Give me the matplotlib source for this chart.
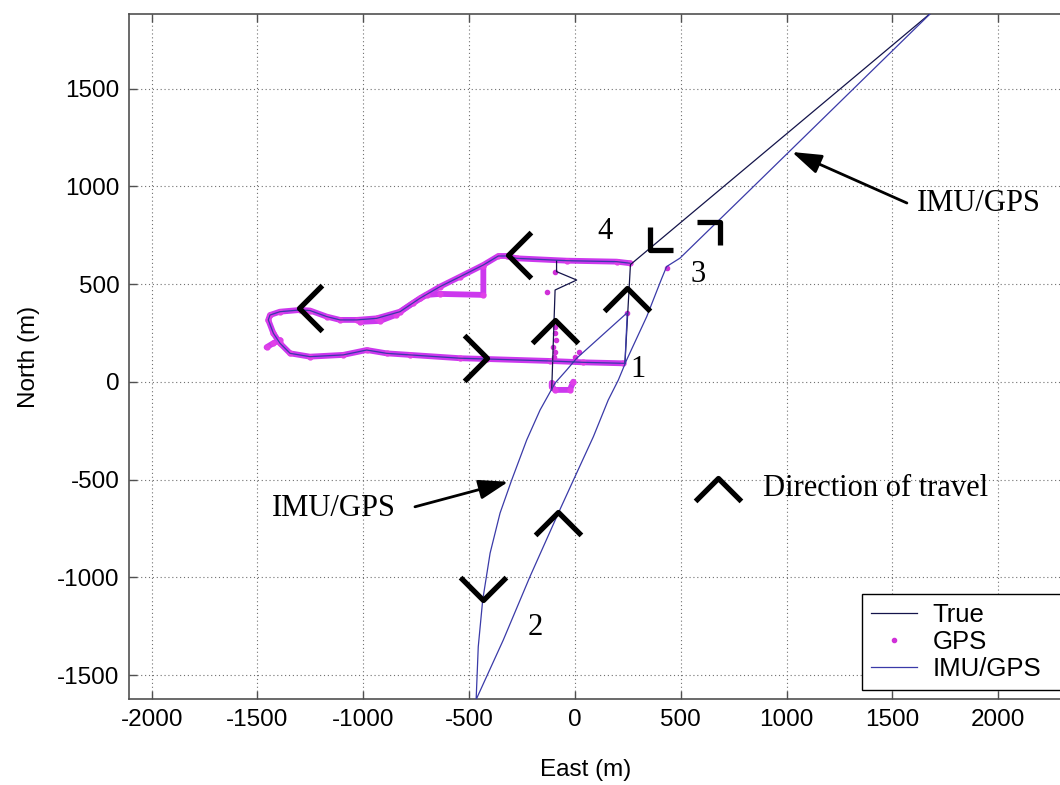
import numpy as np
import matplotlib
matplotlib.use('Agg')
import matplotlib.pyplot as plt
from matplotlib.markers import MarkerStyle
from matplotlib.path import Path
from matplotlib.transforms import Affine2D

plt.rcParams['axes.unicode_minus'] = False
nan = np.nan

# GPS fixes along the loop (East, North in m), NaN breaks the track
gps_loop_e = [260, 197, -39, -275, -323, -362, -433, -543, -638, -732, -827, -937, -1031,
              -1110, -1173, -1252, -1299, -1394, -1441, -1449, -1425, -1394, -1346, -1252,
              -1095, -984, -890, -779, -543, -417, -118, 39, 228]
gps_loop_n = [607, 615, 620, 632, 644, 644, 598, 538, 487, 428, 359, 325, 317,
              317, 334, 365, 368, 359, 342, 317, 249, 198, 146, 129,
              138, 163, 146, 138, 121, 117, 107, 100, 95]
# second pass (inner branch), the west spur and the hook south of the loop
gps_extra_e = [-433, -433, -638, -701, -764, -846, -921, -1016, nan,
               -1394, -1425, -1457, nan,
               -110, -110, -94, -24, -8]
gps_extra_n = [593, 445, 450, 445, 404, 343, 312, 307, nan,
               214, 198, 177, nan,
               -5, -25, -41, -41, 1]
# scattered single fixes
gps_fix_e = [-94, -134, -94, -94, -90, -104, -94, -99, 0, 19, 247, 433]
gps_fix_n = [564, 462, 282, 250, 214, 180, 153, 128, 129, 153, 354, 581]

# IMU/GPS solution during the outage (after leaving the loop at corner 1)
imu_out_e = [236, 247, 8, -39, -94, -165, -228, -299, -354, -401, -436, -457, -467,
             -339, -213, -79, 0, 87, 157, 205, 244, 339, 410, 433, 496, 827, 1836]
imu_out_n = [95, 354, 121, 61, -6, -144, -297, -502, -671, -876, -1116, -1355, -1625,
             -1321, -997, -672, -485, -280, -93, 10, 112, 334, 530, 590, 633, 982, 2050]

# True trajectory
true_e = [1861, 262, 236, nan, -87, -87, 8, -94, -110]
true_n = [2050, 600, 95, nan, 620, 564, 521, 470, -41]

# direction of travel chevrons: apex position, rotation (0 = pointing north), size
chev_e = [-315, -1302, -417, -94, 244, 354, 685, -436, -79, 676]
chev_n = [649, 377, 121, 317, 479, 675, 820, -1116, -664, -492]
chev_rot = [90, 90, -90, 0, 0, 135, -45, 180, 0, 0]
chev_size = [33, 33, 33, 33, 33, 23, 23, 33, 33, 33]

fig = plt.figure(figsize=(10.6, 7.85), dpi=100)
ax = fig.add_axes([0.1217, 0.1096, 0.8896, 0.8726])

ax.plot(gps_loop_e, gps_loop_n, color='#cc38ee', lw=4.2, solid_capstyle='round', zorder=2)
ax.plot(gps_extra_e, gps_extra_n, color='#cc38ee', lw=4.2, solid_capstyle='round', zorder=2)
ax.plot(gps_loop_e + gps_extra_e, gps_loop_n + gps_extra_n, ls='none', marker='.',
        ms=7, color='#e040e8', zorder=2)

l_true, = ax.plot(true_e, true_n, color='#14144a', lw=0.9, zorder=4, label='True')
l_gps, = ax.plot(gps_fix_e, gps_fix_n, ls='none', marker='.', ms=6, color='#d030d8',
                 zorder=3, label='GPS')
imu_e = gps_loop_e + imu_out_e
imu_n = gps_loop_n + imu_out_n
l_imu, = ax.plot(imu_e, imu_n, color='#3a3aa8', lw=0.9, zorder=4, label='IMU/GPS')

chev_path = Path([(-1, -1), (0, 0), (1, -1)], [Path.MOVETO, Path.LINETO, Path.LINETO])
for e, n, rot, sz in zip(chev_e, chev_n, chev_rot, chev_size):
    m = MarkerStyle(chev_path, transform=Affine2D().rotate_deg(rot),
                    joinstyle='miter', capstyle='butt')
    ax.plot(e, n, ls='none', marker=m, ms=sz, mfc='none', mec='k', mew=3.8, zorder=5)

serif = 'Liberation Serif'
ax.text(1614, 910, 'IMU/GPS', family=serif, fontsize=22, ha='left', va='center')
ax.text(-1433, -650, 'IMU/GPS', family=serif, fontsize=22, ha='left', va='center')
ax.text(888, -543, 'Direction of travel', family=serif, fontsize=22, ha='left', va='center')
ax.text(298, 61, '1', family=serif, fontsize=22, ha='center', va='center')
ax.text(-189, -1258, '2', family=serif, fontsize=22, ha='center', va='center')
ax.text(582, 547, '3', family=serif, fontsize=22, ha='center', va='center')
ax.text(142, 769, '4', family=serif, fontsize=22, ha='center', va='center')

arrow = dict(arrowstyle='-|>,head_length=0.9,head_width=0.3', color='k', lw=2,
             shrinkA=0, shrinkB=0, mutation_scale=20)
ax.annotate('', xy=(1025, 1176), xytext=(1568, 915), arrowprops=arrow)
ax.annotate('', xy=(-315, -511), xytext=(-756, -639), arrowprops=arrow)

ax.set_xlim(-2107, 2348)
ax.set_ylim(-1622, 1882)
ax.set_xticks(np.arange(-2000, 2001, 500))
ax.set_yticks(np.arange(-1500, 1501, 500))
ax.grid(True, ls=(0, (1, 2.5)), lw=0.8, color='#707070')
ax.tick_params(direction='in', length=6, width=1, top=True, right=True,
               labelsize=17.5, colors='#505050', labelcolor='k')
ax.tick_params(axis='x', pad=7)
ax.tick_params(axis='y', pad=7)
for s in ax.spines.values():
    s.set_color('#505050')
    s.set_linewidth(1.2)

for lab in ax.get_xticklabels() + ax.get_yticklabels():
    lab.set_family('Liberation Sans')
ax.set_xlabel('East (m)', family='Liberation Sans', fontsize=17.5)
ax.set_ylabel('North (m)', family='Liberation Sans', fontsize=17.5)
ax.xaxis.set_label_coords(0.484, -0.088)
ax.yaxis.set_label_coords(-0.094, 0.5)

leg = ax.legend(handles=[l_true, l_gps, l_imu], loc='lower left',
                bbox_to_anchor=(0.7773, 0.0131, 0.225, 0.13), mode='expand',
                borderaxespad=0,
                prop={'family': 'Liberation Sans', 'size': 18.5},
                fancybox=False, framealpha=1, edgecolor='k',
                handlelength=1.8, handletextpad=0.6, borderpad=0.35, labelspacing=0.12)
leg.get_frame().set_linewidth(1.0)

fig.savefig('out.png', dpi=100)
